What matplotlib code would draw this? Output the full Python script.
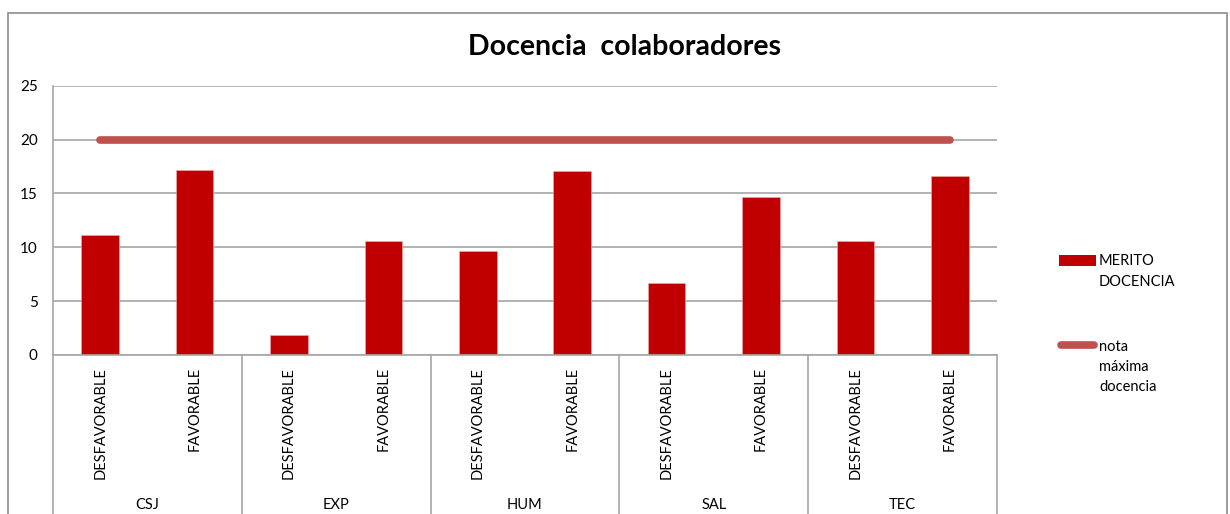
import matplotlib
matplotlib.use("Agg")
import matplotlib.pyplot as plt
from matplotlib.patches import Rectangle
from matplotlib.lines import Line2D

plt.rcParams["font.family"] = ["Lato", "DejaVu Sans"]

groups = ["CSJ", "EXP", "HUM", "SAL", "TEC"]
subcats = ["DESFAVORABLE", "FAVORABLE"]
merito = [11.1, 17.2, 1.9, 10.6, 9.7, 17.1, 6.7, 14.7, 10.6, 16.6]
nota_max = [20] * 10

BAR = "#C00000"
LINE = "#C0504D"
GRID = "#a6a6a6"
FS = 10.5

W, H = 1230, 514
fig = plt.figure(figsize=(W / 100, H / 100), dpi=100)
ax = fig.add_axes([53 / W, 1 - 355 / H, (997 - 53) / W, (355 - 85.7) / H])

x = list(range(len(merito)))
ax.bar(x, merito, width=0.4, color=BAR, edgecolor="#f0b0b0", linewidth=0.4,
       zorder=2)
ax.plot(x, nota_max, color=LINE, lw=5.5, solid_capstyle="round", zorder=3)

ax.set_xlim(-0.5, len(merito) - 0.5)
ax.set_ylim(0, 25)
ax.set_yticks([0, 5, 10, 15, 20, 25])
ax.tick_params(axis="y", length=0, labelsize=11, pad=11)
ax.set_xticks([])
ax.yaxis.grid(True, color=GRID, lw=1.2)
ax.set_axisbelow(True)
for s in ["top", "right"]:
    ax.spines[s].set_visible(False)
ax.spines["left"].set_color(GRID)
ax.spines["bottom"].set_color(GRID)
ax.spines["left"].set_linewidth(1.2)
ax.spines["bottom"].set_linewidth(1.2)

# multi-level category axis
tr = ax.get_xaxis_transform()
for g in range(len(groups) + 1):
    ax.plot([2 * g - 0.5] * 2, [0, -0.62], color=GRID, lw=1.2,
            transform=tr, clip_on=False)
for i in x:
    ax.text(i, -0.045, subcats[i % 2], rotation=90, ha="center", va="top",
            fontsize=FS, transform=tr)
for g, name in enumerate(groups):
    ax.text(2 * g + 0.5, -0.557, name, ha="center", va="center",
            fontsize=FS, transform=tr)

fig.text(625 / W, 1 - 47 / H, "Docencia  colaboradores", ha="center",
         va="center", fontsize=20.5, fontweight="bold")

# legend
fig.add_artist(Rectangle((1059 / W, 1 - 265.7 / H), 37 / W, 10.7 / H,
                         facecolor=BAR, edgecolor="none",
                         transform=fig.transFigure))
fig.text(1099 / W, 1 - 260.7 / H, "MERITO", va="center", fontsize=FS)
fig.text(1099 / W, 1 - 281.7 / H, "DOCENCIA", va="center", fontsize=FS)
fig.add_artist(Line2D([1061 / W, 1094 / W], [1 - 344.5 / H] * 2, color=LINE,
                      lw=5.5, solid_capstyle="round",
                      transform=fig.transFigure))
for k, t in enumerate(["nota", "máxima", "docencia"]):
    fig.text(1099 / W, 1 - (346.7 + 20 * k) / H, t, va="center", fontsize=FS)

# chart border
fig.add_artist(Rectangle((8 / W, -0.05), (1227 - 8) / W, 1.05 - 13 / H,
                         facecolor="none", edgecolor="#8c8c8c", lw=1.2,
                         transform=fig.transFigure))

fig.savefig("out.png", dpi=100)
